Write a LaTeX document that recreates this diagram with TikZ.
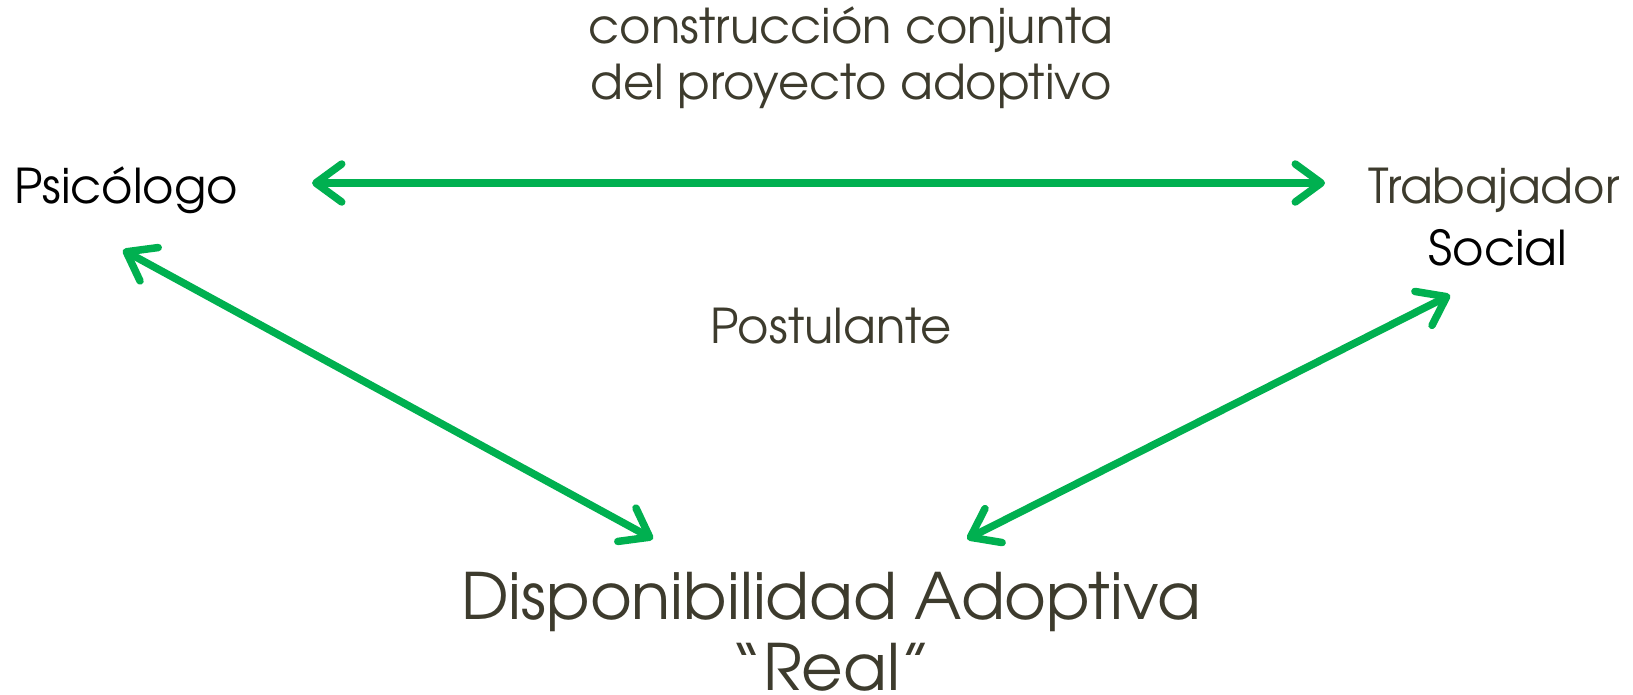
\documentclass[tikz,border=0pt]{standalone}
\usepackage{fontspec}
\setmainfont{TeX Gyre Adventor}
\usetikzlibrary{arrows.meta}
\definecolor{verde}{HTML}{00B050}
\definecolor{oliva}{HTML}{3D3B2D}
\tikzset{
  flecha/.style={verde, line width=7.5pt, line cap=round,
    {Straight Barb[length=26pt, width=38pt, line cap=round, line join=round]}-{Straight Barb[length=26pt, width=38pt, line cap=round, line join=round]}},
  rotulo/.style={inner sep=0pt, align=center, font=\fontsize{48}{58}\selectfont}
}
\begin{document}
\begin{tikzpicture}[x=1pt,y=-1pt]
\useasboundingbox (0,0) rectangle (1633,695);
% Textos
\node[rotulo, oliva, font=\fontsize{48}{56}\selectfont] (proy) at (851,58) {construcción conjunta\\del proyecto adoptivo};
\node[rotulo] (psi) at (126,190) {Psicólogo};
\node[rotulo, oliva] (trab) at (1494,190) {Trabajador};
\node[rotulo] (soc) at (1498,248) {Social};
\node[rotulo, oliva] (post) at (831,326) {Postulante};
\node[rotulo, oliva, font=\fontsize{64}{71}\selectfont] (disp) at (831,632) {Disponibilidad Adoptiva\\``Real''};
% Extremos de las flechas
\coordinate (psiA) at (312,183);
\coordinate (trabA) at (1325,183);
\coordinate (psiB) at (123,250);
\coordinate (dispA) at (653,539);
\coordinate (socB) at (1450,295);
\coordinate (dispB) at (967,539);
% Flechas
\draw[flecha] (psiA) -- (trabA);
\draw[flecha] (psiB) -- (dispA);
\draw[flecha] (socB) -- (dispB);
\end{tikzpicture}
\end{document}
